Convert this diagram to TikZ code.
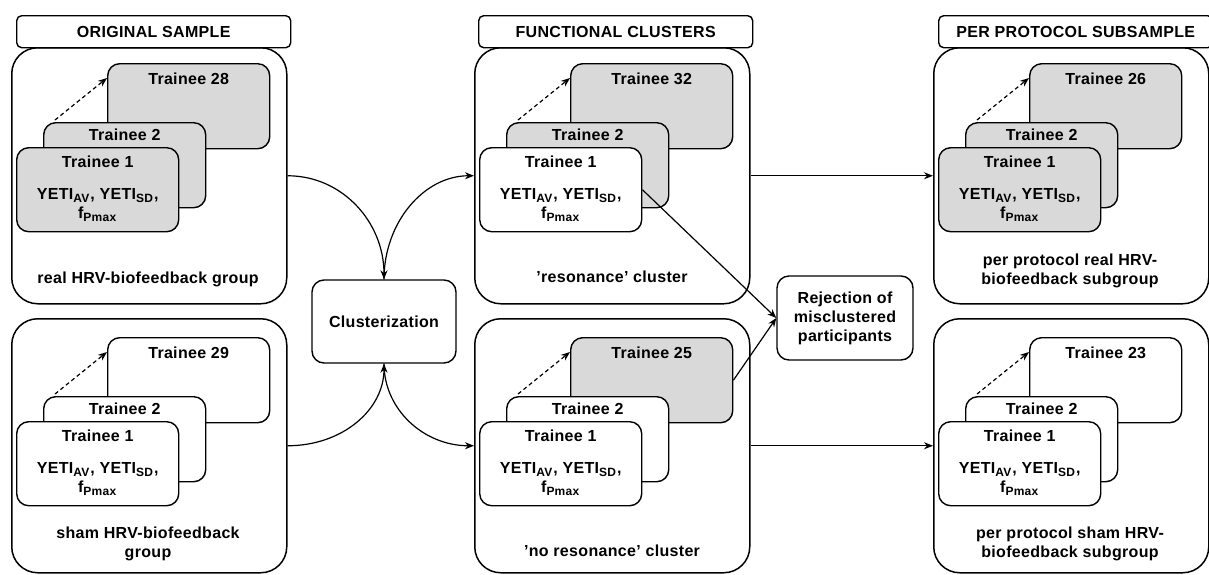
\documentclass[tikz,border=0pt]{standalone}
\usepackage{fontspec}
\setmainfont{Liberation Sans}[LetterSpace=2]
\usetikzlibrary{calc,positioning,arrows.meta}
\definecolor{cardgrey}{gray}{0.85}

\begin{document}
\begin{tikzpicture}[x=0.5pt,y=-0.5pt,font=\fontsize{8}{9.5}\selectfont\bfseries]

\tikzset{groupbox/.style={draw,line width=0.75pt,rounded corners=13pt,minimum width=137.5pt,inner sep=0pt,anchor=north west},
headbox/.style={draw,line width=0.7pt,rounded corners=2.5pt,fill=white,minimum width=137pt,minimum height=16pt,inner sep=0pt,anchor=north west},
card/.style={draw,line width=0.7pt,rounded corners=6pt,minimum height=42.5pt,inner sep=0pt,anchor=north west},
stepbox/.style={draw,line width=0.7pt,rounded corners=6pt,align=center,inner sep=0pt},
caption/.style={align=center,anchor=south,inner sep=0pt},
arr/.style={-{Stealth[length=4.5pt,width=3.5pt]},line width=0.6pt},
dasharr/.style={arr,dash pattern=on 2pt off 1.5pt}}

\useasboundingbox (0,0) rectangle (1209,574);

% Group boxes
\node[groupbox,minimum height=128pt] (real) at (11,47) {};
\node[groupbox,minimum height=127pt] (sham) at (11,318) {};
\node[groupbox,minimum height=128pt] (res) at (474,47) {};
\node[groupbox,minimum height=127pt] (nores) at (474,318) {};
\node[groupbox,minimum height=128pt] (ppreal) at (933,47) {};
\node[groupbox,minimum height=127pt] (ppsham) at (933,318) {};

% Column headers
\node[headbox] (hdOrig) at (16,15) {ORIGINAL SAMPLE};
\node[headbox] (hdFunc) at (478,15) {FUNCTIONAL CLUSTERS};
\node[headbox] (hdPP) at (938,15) {PER PROTOCOL SUBSAMPLE};

% Trainee cards (back, middle, front)
\foreach \s/\gx/\gy/\w/\n/\fb/\fm/\ff in {real/11/0/162/28/cardgrey/cardgrey/cardgrey, sham/11/274/162/29/white/white/white, res/474/0/162/32/cardgrey/cardgrey/white, nores/474/274/162/25/cardgrey/white/white, ppreal/933/0/152/26/cardgrey/cardgrey/cardgrey, ppsham/933/274/152/23/white/white/white} {
  \node[card,fill=\fb,minimum width=\w*0.5pt] (\s-back) at (\gx+96,\gy+63) {};
  \node (\s-tback) at ($(\s-back.north)+(0,16)$) {Trainee \n};
  \node[card,fill=\fm,minimum width=\w*0.5pt] (\s-mid) at (\gx+32,\gy+122) {};
  \node (\s-tmid) at ($(\s-mid.north)+(0,13)$) {Trainee 2};
  \coordinate (\s-ds) at ($(\s-mid.north west)+(12,-2)$);
  \coordinate (\s-de) at ($(\s-back.north west)+(0,15)$);
  \draw[dasharr] (\s-ds) -- (\s-de);
  \node[card,fill=\ff,minimum width=81pt,minimum height=42pt] (\s-front) at (\gx+5,\gy+147) {};
  \node (\s-tfront) at ($(\s-front.north)+(0,15)$) {Trainee 1};
  \node[align=center] (\s-vars) at ($(\s-front.north)+(0,58)$) {YETI\textsubscript{AV}, YETI\textsubscript{SD},\\ f\textsubscript{Pmax}};
}

% Group captions
\node[caption] (capReal) at (148,287) {real HRV-biofeedback group};
\node[caption] (capSham) at (148,561) {sham HRV-biofeedback\\group};
\node[caption] (capRes) at (612,283.5) {'resonance' cluster};
\node[caption] (capNores) at (612,557.5) {'no resonance' cluster};
\node[caption] (capPPreal) at (1070,288) {per protocol real HRV-\\biofeedback subgroup};
\node[caption] (capPPsham) at (1070,561) {per protocol sham HRV-\\biofeedback subgroup};

% Steps
\node[stepbox,minimum width=72pt,minimum height=41.5pt] (clust) at (384,321.5) {Clusterization};
\node[stepbox,minimum width=68pt,minimum height=42pt] (reject) at (845,318) {Rejection of\\misclustered\\participants};

% Connectors
\draw[arr] (real.east) .. controls +(55,0) and +(0,-57) .. (clust.north);
\draw[arr] (clust.north) .. controls +(0,-57) and +(-50,0) .. (res.west);
\draw[arr] (sham.east) .. controls +(55,0) and +(0,46) .. (clust.south);
\draw[arr] (clust.south) .. controls +(0,46) and +(-50,0) .. (nores.west);
\draw[arr] (res.east) -- (ppreal.west);
\draw[arr] (nores.east) -- (ppsham.west);
\draw[arr] (res-front.east) -- (reject.west);
\draw[arr] (nores-back.east) -- (reject.west);

\end{tikzpicture}
\end{document}
